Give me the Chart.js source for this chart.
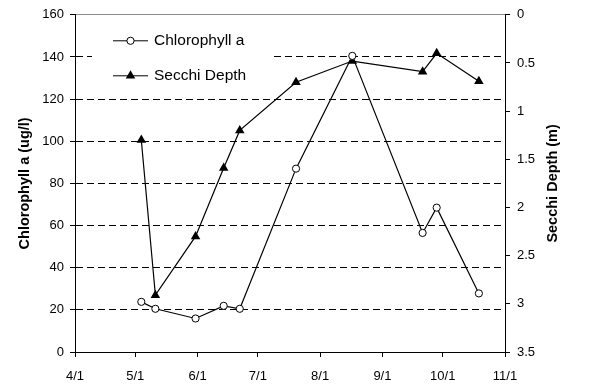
<!DOCTYPE html>
<html>
<head>
<meta charset="utf-8">
<script src="https://cdn.jsdelivr.net/npm/chart.js@4.4.0/dist/chart.umd.min.js"></script>
<style>
    html, body { margin: 0; padding: 0; background: #fff; }
    #wrap { width: 589px; height: 388px; }
</style>
</head>
<body>
<div id="wrap"><canvas id="chart" width="589" height="388"></canvas></div>
<script>
// ============================================
// DATA - sampling dates and measured values
// ============================================
const sampleDates = ['5/4', '5/11', '5/31', '6/14', '6/22', '7/20', '8/17', '9/21', '9/28', '10/19'];
const chlorophyll = [23.8, 20.5, 15.9, 21.9, 20.5, 87, 140.5, 56.5, 68.5, 27.8];
const secchiDepth = [1.30, 2.91, 2.30, 1.59, 1.20, 0.70, 0.48, 0.59, 0.40, 0.69];
const monthTicks = ['4/1', '5/1', '6/1', '7/1', '8/1', '9/1', '10/1', '11/1'];

const leftTitle = 'Chlorophyll a (ug/l)';
const rightTitle = 'Secchi Depth (m)';

// turns "m/d" into days counted from 4/1
function dayOf(label) {
    const [m, d] = label.split('/').map(Number);
    return (Date.UTC(2000, m - 1, d) - Date.UTC(2000, 3, 1)) / 86400000;
}

const FONT = '"Liberation Sans", Arial, sans-serif';
Chart.defaults.font.family = FONT;
Chart.defaults.color = '#000';

// white legend box sitting inside the plot, like the excel one
const legendBox = {
    id: 'legendBox',
    beforeDatasetsDraw(chart) {
        const { ctx, chartArea } = chart;
        ctx.save();
        ctx.fillStyle = '#fff';
        ctx.fillRect(chartArea.left + 17, chartArea.top + 9, 180, 68);
        ctx.restore();
    },
    afterDatasetsDraw(chart) {
        const { ctx, chartArea } = chart;
        const x0 = chartArea.left + 38;
        const rows = [chartArea.top + 26, chartArea.top + 61];
        chart.data.datasets.forEach((ds, i) => {
            const y = rows[i];
            ctx.save();
            ctx.strokeStyle = '#000';
            ctx.lineWidth = 1;
            ctx.beginPath();
            ctx.moveTo(x0, y);
            ctx.lineTo(x0 + 35, y);
            ctx.stroke();
            const cx = x0 + 17.5;
            ctx.beginPath();
            if (ds.pointStyle === 'triangle') {
                const r = ds.pointRadius;
                ctx.moveTo(cx, y - r);
                ctx.lineTo(cx + r * 0.866, y + r / 2);
                ctx.lineTo(cx - r * 0.866, y + r / 2);
                ctx.closePath();
                ctx.fillStyle = '#000';
                ctx.fill();
            } else {
                ctx.arc(cx, y, ds.pointRadius, 0, Math.PI * 2);
                ctx.fillStyle = '#fff';
                ctx.fill();
                ctx.stroke();
            }
            ctx.fillStyle = '#000';
            ctx.font = '15.5px ' + FONT;
            ctx.textBaseline = 'middle';
            ctx.fillText(ds.label, x0 + 41, y);
            ctx.restore();
        });
    }
};

// both axis titles read bottom-to-top
const axisTitles = {
    id: 'axisTitles',
    afterDraw(chart) {
        const { ctx, chartArea } = chart;
        const midY = (chartArea.top + chartArea.bottom) / 2;
        ctx.save();
        ctx.fillStyle = '#000';
        ctx.font = 'bold 14.5px ' + FONT;
        ctx.textAlign = 'center';
        ctx.textBaseline = 'middle';
        [[25, leftTitle], [553, rightTitle]].forEach(([x, text]) => {
            ctx.save();
            ctx.translate(x, midY);
            ctx.rotate(-Math.PI / 2);
            ctx.fillText(text, 0, 0);
            ctx.restore();
        });
        ctx.restore();
    }
};

const tickFont = { size: 13 };

new Chart(document.getElementById('chart'), {
    type: 'line',
    data: {
        datasets: [{
            label: 'Chlorophyll a',
            data: sampleDates.map((d, i) => ({ x: dayOf(d), y: chlorophyll[i] })),
            yAxisID: 'yChl',
            borderColor: '#000',
            borderWidth: 1.2,
            pointStyle: 'circle',
            pointRadius: 3.6,
            pointBackgroundColor: '#fff',
            pointBorderColor: '#000',
            pointBorderWidth: 1,
            tension: 0
        }, {
            label: 'Secchi Depth',
            data: sampleDates.map((d, i) => ({ x: dayOf(d), y: secchiDepth[i] })),
            yAxisID: 'ySecchi',
            borderColor: '#000',
            borderWidth: 1.2,
            pointStyle: 'triangle',
            pointRadius: 5.5,
            pointBackgroundColor: '#000',
            pointBorderColor: '#000',
            pointBorderWidth: 0,
            tension: 0
        }]
    },
    options: {
        responsive: false,
        animation: false,
        layout: { padding: { top: 14, left: 0, right: 0, bottom: 0 } },
        plugins: {
            legend: { display: false },
            tooltip: { enabled: false }
        },
        scales: {
            x: {
                type: 'linear',
                min: 0,
                max: dayOf('11/1'),
                afterBuildTicks: s => { s.ticks = monthTicks.map(l => ({ value: dayOf(l) })); },
                afterFit: s => { s.height = 36; },
                ticks: {
                    callback: (v, i) => monthTicks[i],
                    font: tickFont,
                    padding: 12,
                    autoSkip: false,
                    maxRotation: 0
                },
                grid: { drawOnChartArea: false, tickLength: 5, color: '#000' },
                border: { color: '#000', width: 1 }
            },
            yChl: {
                position: 'left',
                min: 0,
                max: 160,
                afterFit: s => { s.width = 75; },
                ticks: { stepSize: 20, font: tickFont, padding: 6 },
                grid: {
                    tickLength: 5,
                    tickColor: '#000',
                    // dashed gridlines, grey line on top, nothing on the 0 line
                    color: c => c.tick.value === 160 ? '#8c8c8c' : (c.tick.value === 0 ? 'rgba(0,0,0,0)' : '#000')
                },
                border: {
                    color: '#000',
                    width: 1,
                    dash: c => (c.tick && c.tick.value > 0 && c.tick.value < 160) ? [7, 4] : []
                }
            },
            ySecchi: {
                position: 'right',
                reverse: true,
                min: 0,
                max: 3.5,
                afterFit: s => { s.width = 84; },
                ticks: {
                    stepSize: 0.5,
                    font: tickFont,
                    padding: 7,
                    callback: v => String(+v.toFixed(1))
                },
                grid: { drawOnChartArea: false, tickLength: 5, color: '#000' },
                border: { color: '#000', width: 1 }
            }
        }
    },
    plugins: [legendBox, axisTitles]
});
</script>
</body>
</html>
